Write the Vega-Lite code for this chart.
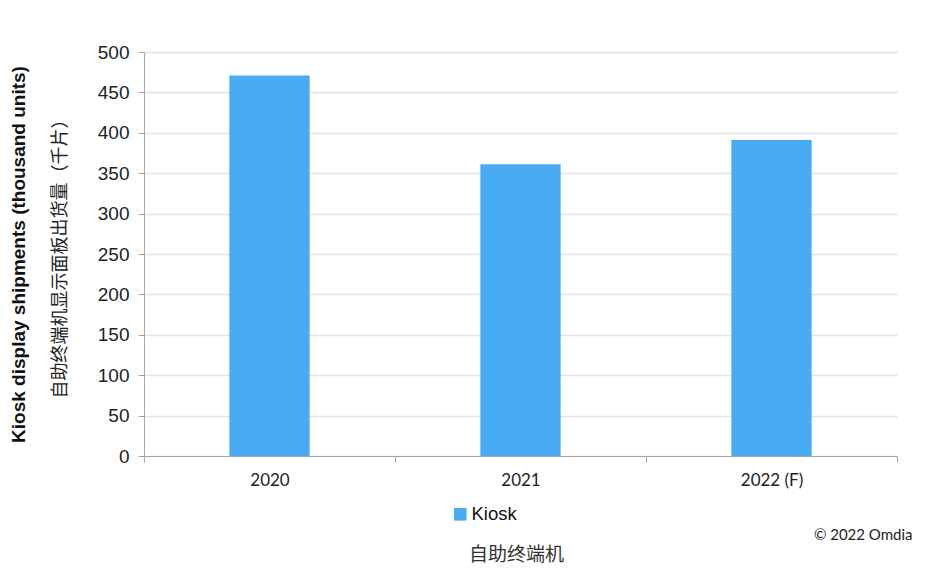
{
  "$schema": "https://vega.github.io/schema/vega-lite/v6.json",
  "width": 753,
  "height": 404,
  "autosize": {"type": "none"},
  "padding": {"left": 144, "top": 52, "right": 37, "bottom": 118},
  "background": "white",
  "title": {
    "text": "自助终端机",
    "orient": "bottom",
    "anchor": "middle",
    "font": "Noto Sans CJK SC",
    "fontSize": 19,
    "fontWeight": "normal",
    "color": "#333333",
    "offset": 4,
    "dx": -4
  },
  "config": {
    "view": {"stroke": null},
    "font": "Liberation Sans"
  },
  "data": {
    "values": [
      {"year": "2020", "series": "Kiosk", "value": 471},
      {"year": "2021", "series": "Kiosk", "value": 361},
      {"year": "2022 (F)", "series": "Kiosk", "value": 391}
    ]
  },
  "layer": [
    {
      "mark": {"type": "bar", "width": {"band": 0.32}},
      "encoding": {
        "x": {
          "field": "year",
          "type": "nominal",
          "sort": null,
          "scale": {"paddingInner": 0, "paddingOuter": 0},
          "axis": {
            "title": "© 2022 Omdia",
            "titleFont": "Lato",
            "titleFontSize": 15,
            "titleFontWeight": "normal",
            "titleColor": "#222222",
            "titleX": 768,
            "titleY": 78,
            "titleAlign": "right",
            "titleAnchor": null,
            "titleBaseline": "middle",
            "labelAngle": 0,
            "labelFont": "Lato",
            "labelFontSize": 17,
            "labelColor": "#222222",
            "labelPadding": 10,
            "tickBand": "extent",
            "tickSize": 6,
            "tickColor": "#a6a6a6",
            "domainColor": "#a6a6a6",
            "grid": false
          }
        },
        "y": {
          "field": "value",
          "type": "quantitative",
          "scale": {"domain": [0, 500], "nice": false},
          "axis": {
            "values": [0, 50, 100, 150, 200, 250, 300, 350, 400, 450, 500],
            "title": "自助终端机显示面板出货量（千片）",
            "titleFont": "Noto Sans CJK SC",
            "titleFontSize": 18,
            "titleFontWeight": "normal",
            "titleColor": "#222222",
            "titlePadding": 28,
            "labelFont": "Liberation Sans",
            "labelFontSize": 19,
            "labelColor": "#222222",
            "labelPadding": 9,
            "tickSize": 6,
            "tickColor": "#a6a6a6",
            "domainColor": "#a6a6a6",
            "gridColor": "#e3e3e3",
            "gridWidth": 1.5
          }
        },
        "color": {
          "field": "series",
          "type": "nominal",
          "scale": {"range": ["#4aabf5"]},
          "legend": {
            "title": null,
            "orient": "none",
            "legendX": 307,
            "legendY": 453,
            "symbolType": "square",
            "symbolSize": 160,
            "symbolStrokeWidth": 0,
            "labelFont": "Liberation Sans",
            "labelFontSize": 18.5,
            "labelColor": "#111111",
            "labelOffset": 2
          }
        }
      }
    },
    {
      "mark": {"type": "bar", "opacity": 0},
      "encoding": {
        "x": {"field": "year", "type": "nominal", "sort": null},
        "y": {
          "field": "value",
          "type": "quantitative",
          "axis": {
            "orient": "left",
            "title": "Kiosk display shipments (thousand units)",
            "titleFont": "Liberation Sans",
            "titleFontSize": 19,
            "titleFontWeight": "bold",
            "titleColor": "#111111",
            "labels": false,
            "ticks": false,
            "domain": false,
            "grid": false,
            "offset": 116,
            "titlePadding": 0
          }
        }
      }
    }
  ],
  "resolve": {"axis": {"y": "independent"}}
}
